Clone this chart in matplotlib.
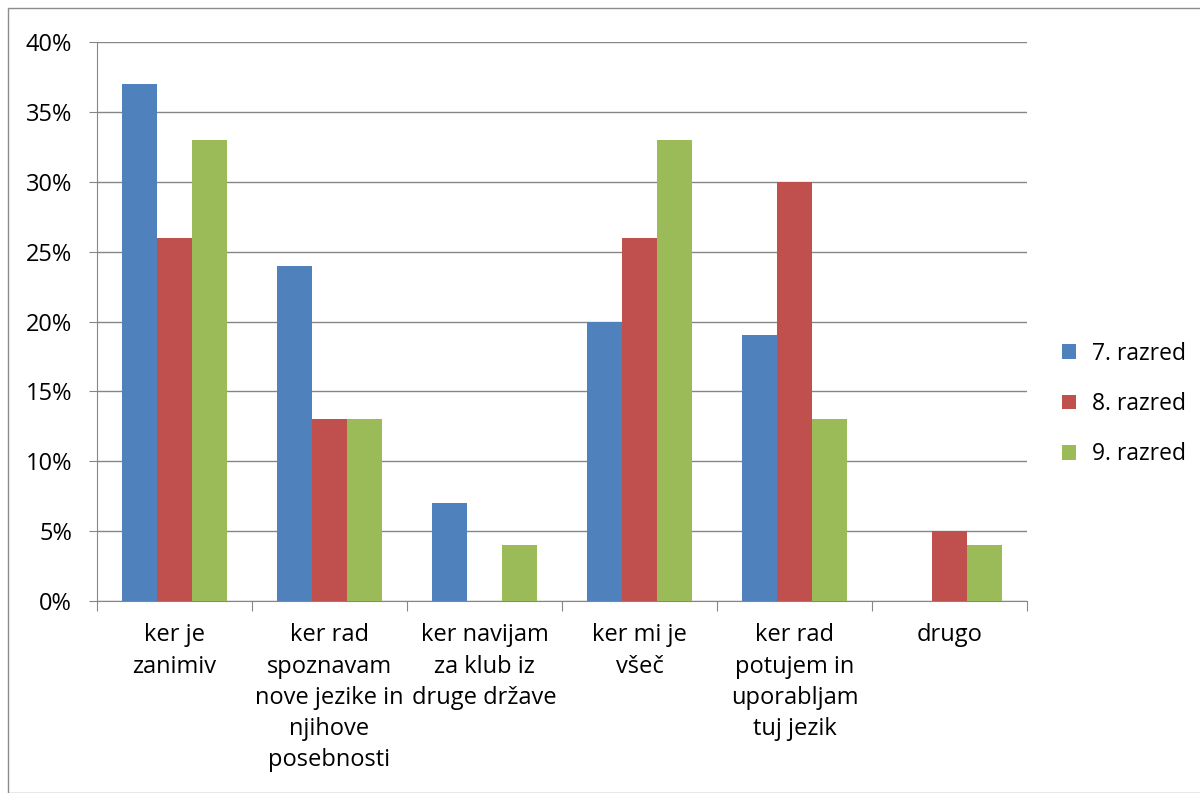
import numpy as np
import matplotlib.pyplot as plt
from matplotlib.patches import Rectangle

plt.rcParams['font.family'] = ['Open Sans', 'DejaVu Sans']

categories = ['ker je\nzanimiv',
              'ker rad\nspoznavam\nnove jezike in\nnjihove\nposebnosti',
              'ker navijam\nza klub iz\ndruge države',
              'ker mi je\nvšeč',
              'ker rad\npotujem in\nuporabljam\ntuj jezik',
              'drugo']
series_names = ['7. razred', '8. razred', '9. razred']
razred7 = [37, 24, 7, 20, 19, 0]
razred8 = [26, 13, 0, 26, 30, 5]
razred9 = [33, 13, 4, 33, 13, 4]
colors = ['#4F81BD', '#C0504D', '#9BBB59']

fig = plt.figure(figsize=(12, 7.93), dpi=100)
ax = fig.add_axes([0.0808, 0.2421, 0.775, 0.7049])

# outer chart frame
fig.patches.append(Rectangle((8 / 1200, 0.0), 1.2, 1 - 8 / 793, transform=fig.transFigure,
                             fill=False, edgecolor='#8c8c8c', linewidth=1.0))

x = np.arange(len(categories))
w = 35 / 155
for i, (vals, name) in enumerate(zip([razred7, razred8, razred9], series_names)):
    ax.bar(x + (i - 1) * w, vals, width=w, color=colors[i], label=name, zorder=3)

ax.set_xlim(-0.5, len(categories) - 0.5)
ax.set_ylim(0, 40)
ax.set_yticks(range(0, 41, 5))
ax.set_yticklabels([f'{v}%' for v in range(0, 41, 5)], fontsize=17)
ax.yaxis.grid(True, color='#868686', linewidth=1.0, zorder=0)
ax.tick_params(axis='y', length=6, color='#868686', pad=12)

# category boundary ticks
ax.set_xticks(np.arange(-0.5, len(categories), 1.0))
ax.set_xticklabels([])
ax.tick_params(axis='x', length=7, color='#868686')
for xi, lab in zip(x, categories):
    ax.text(xi, -1.6, lab, ha='center', va='top', fontsize=17, linespacing=1.4)

for s in ['top', 'right']:
    ax.spines[s].set_visible(False)
for s in ['left', 'bottom']:
    ax.spines[s].set_color('#868686')

fig.legend(loc='center left', bbox_to_anchor=(1062 / 1200, 1 - 404 / 793), frameon=False,
           fontsize=16.5, handlelength=0.6, handleheight=0.6, labelspacing=1.15,
           handletextpad=0.7, borderaxespad=0, borderpad=0)

fig.savefig('out.png', dpi=100)
